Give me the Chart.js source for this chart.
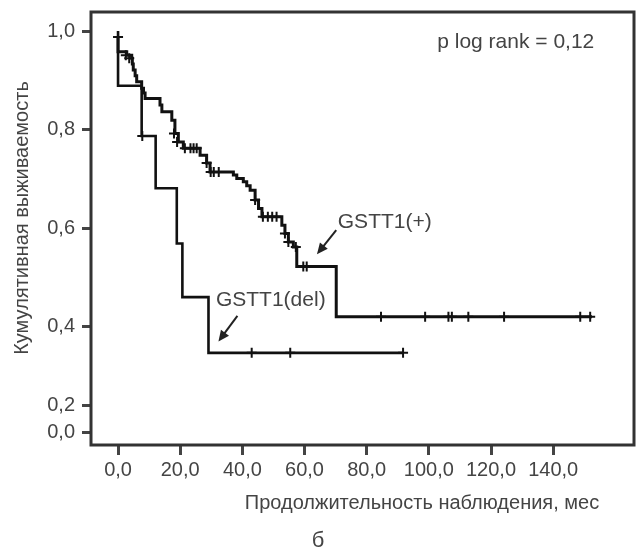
<!DOCTYPE html>
<html>
<head>
<meta charset="utf-8">
<script src="https://cdn.jsdelivr.net/npm/chart.js@4.4.1/dist/chart.umd.min.js"></script>
<style>
  body { margin: 0; background: #fff; }
  #wrap { width: 641px; height: 550px; position: relative; }
</style>
</head>
<body>
<div id="wrap"><canvas id="kmChart"></canvas></div>
<script>
// axis ticks
const xTickValues = [0, 20, 40, 60, 80, 100, 120, 140];
const yTickValues = [0, 0.2, 0.4, 0.6, 0.8, 1.0];

// GSTT1(+) : event times (months) and survival after each step
const plusTimes = [0, 0, 2.8, 4.4, 4.6, 4.9, 5.5, 6.0, 7.6, 8.2, 8.7, 13.5, 14.1, 17.3, 18.3, 19.4, 21.0, 26.4, 28.5, 29.6, 37.1, 38.2, 40.3, 41.4, 42.5, 44.1, 45.2, 46.3, 52.7, 53.7, 54.8, 56.4, 57.5, 70.2, 152.5];
const plusSurv = [0.988, 0.958, 0.951, 0.945, 0.933, 0.921, 0.909, 0.897, 0.884, 0.874, 0.863, 0.850, 0.836, 0.819, 0.792, 0.775, 0.762, 0.748, 0.732, 0.714, 0.708, 0.701, 0.694, 0.686, 0.677, 0.657, 0.640, 0.623, 0.606, 0.589, 0.572, 0.562, 0.522, 0.420, 0.420];
// GSTT1(+) censored
const plusCensTimes = [0, 2.5, 3.6, 18.0, 19.0, 21.5, 23.3, 24.3, 25.3, 28.5, 29.8, 30.8, 32.4, 44.1, 46.6, 48.2, 49.6, 51.0, 53.7, 54.8, 57.2, 59.6, 60.7, 84.6, 98.8, 106.3, 107.4, 112.7, 124.2, 148.7, 151.9];
const plusCensSurv = [0.988, 0.951, 0.945, 0.792, 0.775, 0.762, 0.762, 0.762, 0.762, 0.732, 0.714, 0.714, 0.714, 0.657, 0.623, 0.623, 0.623, 0.623, 0.589, 0.572, 0.562, 0.522, 0.522, 0.42, 0.42, 0.42, 0.42, 0.42, 0.42, 0.42, 0.42];

// GSTT1(del)
const delTimes = [0, 0, 7.6, 12.1, 18.9, 20.7, 29.1, 91.7];
const delSurv = [1.0, 0.889, 0.787, 0.681, 0.569, 0.460, 0.347, 0.347];
const delCensTimes = [7.8, 43.0, 55.4, 91.7];
const delCensSurv = [0.787, 0.347, 0.347, 0.347];

const FONT = '"Liberation Sans", Arial, sans-serif';
const TXT = '#444';

// axis is broken below 0.4: 0,0 and 0,2 are squeezed near the bottom
function axisBreak(v) {
    if (v >= 0.3) return v;
    return 0.186 + v * 0.27;
}

function toPoints(xs, ys) {
    let pts = [];
    for (var i = 0; i < xs.length; i++) {
        pts[i] = { x: xs[i], y: axisBreak(ys[i]) };
    }
    return pts;
}

function fmt(v) {
    return v.toFixed(1).replace('.', ',');
}

// text labels and arrows, placed in data units
const notes = [
    { text: 'p log rank = 0,12', x: 102.7, y: 0.978 },
    { text: 'GSTT1(+)', x: 70.7, y: 0.613 },
    { text: 'GSTT1(del)', x: 31.5, y: 0.454 }
];
const arrows = [
    { x1: 70.2, y1: 0.596, x2: 64.0, y2: 0.547 },
    { x1: 38.4, y1: 0.422, x2: 32.3, y2: 0.370 }
];

const extras = {
    id: 'extras',
    afterDraw(chart) {
        const ctx = chart.ctx;
        const ca = chart.chartArea;
        const xs = chart.scales.x, ys = chart.scales.y;
        ctx.save();

        // frame around plot
        ctx.strokeStyle = '#333';
        ctx.lineWidth = 3;
        ctx.strokeRect(ca.left, ca.top, ca.right - ca.left, ca.bottom - ca.top);

        ctx.fillStyle = TXT;
        ctx.font = '21px ' + FONT;
        ctx.textBaseline = 'middle';
        ctx.textAlign = 'left';
        notes.forEach(function (n) {
            ctx.fillText(n.text, xs.getPixelForValue(n.x), ys.getPixelForValue(n.y));
        });

        ctx.strokeStyle = '#222';
        ctx.fillStyle = '#222';
        ctx.lineWidth = 2;
        arrows.forEach(function (a) {
            const x1 = xs.getPixelForValue(a.x1), y1 = ys.getPixelForValue(a.y1);
            const x2 = xs.getPixelForValue(a.x2), y2 = ys.getPixelForValue(a.y2);
            const ang = Math.atan2(y2 - y1, x2 - x1);
            ctx.beginPath();
            ctx.moveTo(x1, y1);
            ctx.lineTo(x2 - 6 * Math.cos(ang), y2 - 6 * Math.sin(ang));
            ctx.stroke();
            ctx.beginPath();
            ctx.moveTo(x2, y2);
            ctx.lineTo(x2 - 11 * Math.cos(ang) + 5 * Math.sin(ang), y2 - 11 * Math.sin(ang) - 5 * Math.cos(ang));
            ctx.lineTo(x2 - 11 * Math.cos(ang) - 5 * Math.sin(ang), y2 - 11 * Math.sin(ang) + 5 * Math.cos(ang));
            ctx.closePath();
            ctx.fill();
        });

        // axis titles and panel letter
        ctx.fillStyle = TXT;
        ctx.font = '20px ' + FONT;
        ctx.textAlign = 'center';
        ctx.fillText('Продолжительность наблюдения, мес', 422, 503);
        ctx.font = '22px ' + FONT;
        ctx.fillText('б', 318, 541);

        ctx.font = '20px ' + FONT;
        ctx.translate(22, 218);
        ctx.rotate(-Math.PI / 2);
        ctx.fillText('Кумулятивная выживаемость', 0, 0);
        ctx.restore();
    }
};

function censorSet(xs, ys) {
    return {
        type: 'line',
        data: toPoints(xs, ys),
        showLine: false,
        pointStyle: 'cross',
        pointRadius: 5,
        pointBorderWidth: 2,
        pointBorderColor: '#111',
        pointBackgroundColor: '#111'
    };
}

new Chart(document.getElementById('kmChart'), {
    type: 'line',
    data: {
        datasets: [
            {
                label: 'GSTT1(+)',
                data: toPoints(plusTimes, plusSurv),
                stepped: true,
                borderColor: '#111',
                borderWidth: 3,
                pointRadius: 0
            },
            {
                label: 'GSTT1(del)',
                data: toPoints(delTimes, delSurv),
                stepped: true,
                borderColor: '#111',
                borderWidth: 2.6,
                pointRadius: 0
            },
            censorSet(plusCensTimes, plusCensSurv),
            censorSet(delCensTimes, delCensSurv)
        ]
    },
    options: {
        responsive: true,
        maintainAspectRatio: false,
        animation: false,
        layout: { padding: { top: 12, right: 7, left: 0, bottom: 0 } },
        plugins: { legend: { display: false }, tooltip: { enabled: false } },
        scales: {
            x: {
                type: 'linear',
                min: -8.7,
                max: 166,
                afterBuildTicks: function (scale) {
                    scale.ticks = xTickValues.map(v => ({ value: v }));
                },
                afterFit: function (scale) {
                    scale.height = 105;
                    scale.paddingLeft = 0;
                    scale.paddingRight = 0;
                },
                ticks: {
                    color: TXT,
                    font: { family: FONT, size: 20 },
                    padding: 3,
                    maxRotation: 0,
                    autoSkip: false,
                    callback: function (value) { return fmt(value); }
                },
                grid: { drawOnChartArea: false, tickLength: 10, tickWidth: 3, tickColor: '#444' },
                border: { display: false }
            },
            y: {
                type: 'linear',
                min: 0.16,
                max: 1.0386,
                afterBuildTicks: function (scale) {
                    scale.ticks = yTickValues.map(v => ({ value: axisBreak(v) }));
                },
                afterFit: function (scale) {
                    scale.width = 91;
                    scale.paddingTop = 0;
                    scale.paddingBottom = 0;
                },
                ticks: {
                    color: TXT,
                    font: { family: FONT, size: 20 },
                    padding: 7,
                    autoSkip: false,
                    callback: function (value, index) { return fmt(yTickValues[index]); }
                },
                grid: { drawOnChartArea: false, tickLength: 9, tickWidth: 3, tickColor: '#444' },
                border: { display: false }
            }
        }
    },
    plugins: [extras]
});
</script>
</body>
</html>
